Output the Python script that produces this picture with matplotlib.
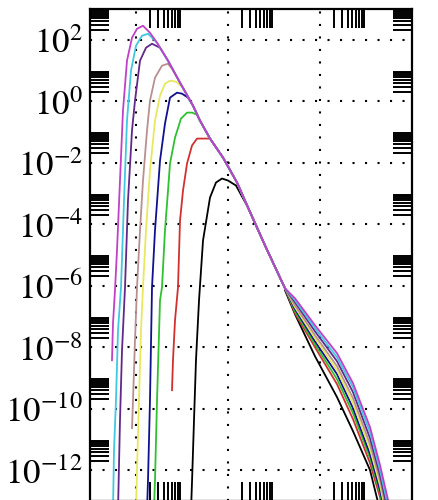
import matplotlib.pyplot as plt
import numpy as np
from matplotlib.ticker import FixedLocator, NullFormatter

plt.rcParams['mathtext.fontset'] = 'stix'

# all values are log10 of x and y
# shared falling power law that every curve joins after its peak
env_x = [0.152, 0.304, 0.457, 0.696, 0.957, 1.239, 1.391, 1.609, 1.891, 2.196, 2.435, 2.804, 3.239]
env_y = [2.455, 2.227, 1.903, 1.318, 0.604, -0.143, -0.630, -1.214, -1.831, -2.643, -3.455, -4.688, -6.084]
# the tail where the curves fan out again
fan_x = [3.457, 3.891, 4.370, 4.717, 5.087, 5.304, 5.5]

mag_x = [-0.522, -0.5, -0.457, -0.413, -0.348, -0.283, -0.196, -0.087, 0.022]
mag_y = [-8.422, -7.221, -6.149, -4.851, -2.578, -0.305, 1.318, 2.065, 2.357]
mag_fan = [-6.409, -7.286, -8.195, -9.169, -10.597, -11.831, -13.1]

cyan_x = [-0.5, -0.478, -0.435, -0.391, -0.326, -0.261, -0.196, -0.109, 0.0, 0.130, 0.261]
cyan_y = [-13.292, -11.344, -9.72, -7.448, -6.052, -3.227, -0.630, 0.994, 1.805, 2.130, 2.195]
cyan_fan = [-6.474, -7.383, -8.325, -9.299, -10.760, -11.994, -13.3]

viol_x = [-0.391, -0.348, -0.304, -0.239, -0.174, -0.087, -0.022, 0.087, 0.217, 0.348, 0.522]
viol_y = [-13.292, -10.370, -8.097, -6.052, -3.227, -0.955, 0.019, 1.318, 1.740, 1.870, 1.740]
viol_fan = [-6.539, -7.481, -8.455, -9.461, -10.955, -12.156, -13.5]

grey_x = [-0.087, -0.065, -0.022, 0.022, 0.087, 0.152, 0.239, 0.304, 0.413, 0.565, 0.696, 0.783]
grey_y = [-10.630, -9.72, -7.773, -6.052, -4.201, -2.578, -0.955, 0.019, 0.766, 1.156, 1.221, 1.058]
grey_fan = [-6.636, -7.610, -8.617, -9.656, -11.149, -12.318, -13.7]

yel_x = [0.0, 0.022, 0.065, 0.109, 0.152, 0.217, 0.304, 0.413, 0.522, 0.630, 0.739, 0.870, 1.022]
yel_y = [-13.292, -11.994, -9.72, -7.448, -6.052, -4.201, -2.253, -0.630, 0.182, 0.571, 0.669, 0.636, 0.442]
yel_fan = [-6.701, -7.708, -8.747, -9.818, -11.312, -12.481, -13.9]

navy_x = [0.239, 0.261, 0.304, 0.348, 0.413, 0.522, 0.630, 0.739, 0.891, 1.0, 1.130]
navy_y = [-13.292, -12.318, -9.72, -6.052, -4.201, -1.929, -0.727, 0.117, 0.279, 0.247, 0.117]
navy_fan = [-6.766, -7.805, -8.877, -9.981, -11.474, -12.643, -14.0]

green_x = [0.391, 0.413, 0.457, 0.522, 0.565, 0.630, 0.696, 0.739, 0.848, 0.978, 1.109, 1.217, 1.326]
green_y = [-13.292, -12.318, -9.72, -6.474, -6.052, -4.201, -2.903, -2.026, -1.182, -0.565, -0.370, -0.370, -0.435]
green_fan = [-6.831, -7.903, -9.039, -10.143, -11.604, -12.740, -14.1]

red_x = [0.783, 0.804, 0.848, 0.913, 0.957, 1.022, 1.109, 1.217, 1.326, 1.478]
red_y = [-9.396, -8.422, -7.123, -6.052, -3.877, -2.903, -2.026, -1.442, -1.214, -1.214]
red_fan = [-6.896, -8.0, -9.201, -10.338, -11.766, -12.870, -14.2]

blk_x = [1.196, 1.217, 1.261, 1.304, 1.370, 1.457, 1.609, 1.739, 1.870, 2.0, 2.174]
blk_y = [-13.292, -12.416, -10.370, -8.422, -6.474, -4.526, -3.130, -2.643, -2.513, -2.578, -2.740]
blk_fan_x = [3.239, 3.457, 3.891, 4.370, 4.717, 5.087, 5.304]
blk_fan = [-6.149, -6.929, -8.292, -9.623, -10.727, -11.994, -13.3]

fig = plt.figure(figsize=(4.38, 5.0), dpi=100)
ax = fig.add_axes([90/438, -0.002, 322/438, 0.984])

def draw(rx, ry, start, fx, fy, col):
    x = rx + env_x[start:] + fx
    y = ry + env_y[start:] + fy
    ax.plot(10**np.array(x), 10**np.array(y), color=col, lw=1.3)

draw(blk_x, blk_y, 10, blk_fan_x, blk_fan, 'black')
draw(red_x, red_y, 7, fan_x, red_fan, '#d03030')
draw(green_x, green_y, 6, fan_x, green_fan, '#30c030')
draw(navy_x, navy_y, 5, fan_x, navy_fan, '#101090')
draw(yel_x, yel_y, 5, fan_x, yel_fan, '#e8e860')
draw(grey_x, grey_y, 4, fan_x, grey_fan, '#b89090')
draw(viol_x, viol_y, 3, fan_x, viol_fan, '#602888')
draw(cyan_x, cyan_y, 2, fan_x, cyan_fan, '#40c8e0')
draw(mag_x, mag_y, 0, fan_x, mag_fan, '#c040c8')

ax.set_xscale('log')
ax.set_yscale('log')
ax.set_xlim(1e-1, 1e6)
ax.set_ylim(1e-13, 1e3)

yt = [10.0**k for k in range(-12, 3, 2)]
ax.set_yticks(yt)
ax.set_yticklabels(['$10^{%d}$' % k for k in range(-12, 3, 2)], fontsize=25)
ax.set_xticks([1, 1e2, 1e4])
ax.set_xticklabels([])
ax.yaxis.set_minor_locator(FixedLocator([j * 10.0**k for k in range(-12, 3, 2) for j in range(2, 10)]))
ax.xaxis.set_minor_locator(FixedLocator([j * 10.0**k for k in (0, 2, 4) for j in range(2, 10)]))
ax.xaxis.set_minor_formatter(NullFormatter())
ax.yaxis.set_minor_formatter(NullFormatter())
ax.tick_params(which='major', length=0, pad=5)
ax.tick_params(which='minor', length=14, width=1.4)
ax.tick_params(which='both', direction='in', top=True, right=True)
ax.grid(True, which='major', color='black', linestyle=(0, (1, 5)), linewidth=1.5)
for s in ax.spines.values():
    s.set_linewidth(1.6)

fig.savefig('out.png', dpi=100)
